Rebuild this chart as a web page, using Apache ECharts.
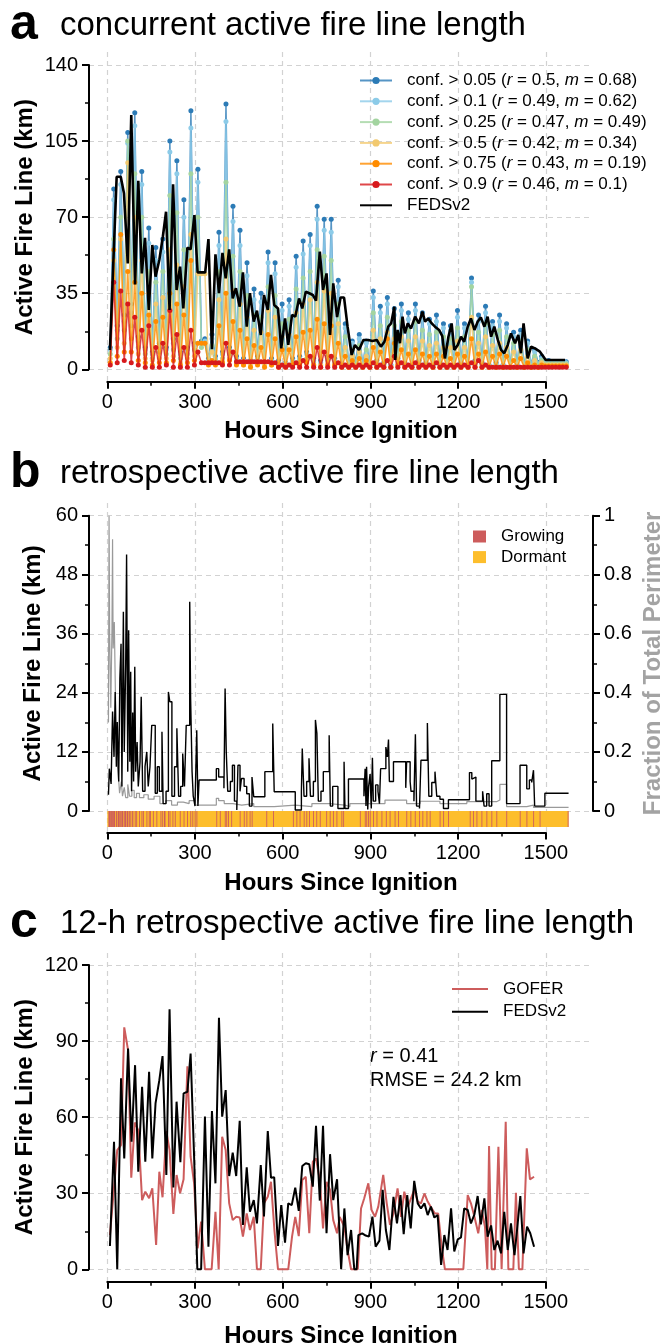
<!DOCTYPE html>
<html>
<head>
<meta charset="utf-8">
<script src="https://cdn.jsdelivr.net/npm/echarts@6/dist/echarts.min.js"></script>
<style>
  html, body { margin: 0; padding: 0; background: #fff; }
  #chart { width: 665px; height: 1343px; }
</style>
</head>
<body>
<div id="chart"></div>
<script>
// ---- panel a: concurrent fire line, one low/high pair per day (low at 10+24d, high 12 h later)
const confStart = 10;
const confThresholds = ['0.05', '0.1', '0.25', '0.5', '0.75', '0.9'];
const confR = ['0.5', '0.49', '0.47', '0.42', '0.43', '0.46'];
const confM = ['0.68', '0.62', '0.49', '0.34', '0.19', '0.1'];

const conf05Lows = [10,20,25,30,15,10,8,12,10,14, 8,10,12,13,5,6,8,10,6,5, 4,6,3,5,4,3,5,6,8,5,
  4,6,5,3,2,3,2,2,4,3, 2,5,3,2,4,3,2,3,1,2, 3,2,4,3,2,3,2,1,2,1, 2,3,3.5,3.5,3.5,3.5];
const conf05Highs = [83,91,109,118,91,65,56,60,105,96, 78,119,92,14,16,63,122,75,64,49, 37,35,54,49,30,32,52,59,62,75,
  69,69,41,21,13,16,13,36,29,33, 28,30,26,30,26,23,25,21,20,27, 21,42,25,29,22,25,21,17,18,13, 9,6,4,3.5,3.5];
const conf10Lows = [9,18,22,26,13,9,7,10,9,12, 7,9,11,12,4,5,7,9,5,4, 3,5,3,4,3,3,4,5,7,4,
  3,5,4,3,2,2,2,2,3,2, 2,4,2,2,3,2,2,2,1,2, 2,2,3,2,2,2,2,1,2,1, 2,2.5,3,3,3,3];
const conf10Highs = [78,85,104,112,85,58,50,54,100,90, 70,111,86,13,14,57,114,68,57,43, 32,31,49,44,27,29,47,53,57,69,
  64,63,38,19,12,14,12,33,26,30, 25,27,23,27,23,21,22,19,18,24, 19,40,22,26,20,22,19,15,16,12, 8,5,3,3,3];
const conf25Lows = [7,14,18,20,10,7,5,8,7,9, 5,7,9,10,3,4,5,7,4,3, 2,4,2,3,2,2,3,4,5,3,
  2,4,3,2,1,2,1,1,2,2, 1,3,2,1,2,2,1,2,1,1, 2,1,2,2,1,2,1,1,1,1, 1,2,2.5,2.5,2.5,2.5];
const conf25Highs = [60,70,105,90,70,45,40,45,80,72, 55,90,70,12,11,45,86,52,45,34, 25,24,38,34,21,23,37,42,45,55,
  52,50,30,15,9,11,9,26,20,24, 20,22,18,22,18,16,17,15,14,19, 15,38,17,21,16,18,15,12,13,9, 6,4,2.5,2.5,2.5];
const conf50Lows = [5,10,12,14,7,5,4,5,5,6, 3,5,6,44,3,3,4,5,3,2, 2,3,2,2,2,2,2,3,4,2,
  2,3,2,2,1,1,1,1,2,1, 1,2,1,1,2,1,1,1,1,1, 1,1,2,1,1,1,1,1,1,1, 1,1,2,2,2,2];
const conf50Highs = [50,60,95,70,50,35,30,33,55,48, 38,62,44,44,8,32,60,36,30,24, 18,17,27,24,15,16,26,30,32,40,
  36,35,21,10,6,8,6,18,14,17, 14,15,13,15,13,11,12,10,10,13, 10,24,12,15,11,12,10,8,9,6, 4,3,2,2,2];
const conf75Lows = [3,6,8,8,4,3,2,3,3,4, 2,3,4,12,2,2,3,4,2,2, 1,2,1,2,1,1,2,2,3,2,
  1,2,2,1,1,1,1,1,1,1, 1,2,1,1,1,1,1,1,1,1, 1,1,1,1,1,1,1,1,1,1, 1,1,1.5,1.5,1.5,1.5];
const conf75Highs = [55,62,45,40,35,25,22,24,35,30, 25,50,12,12,4,20,35,22,18,14, 11,10,16,14,9,9,15,17,18,23,
  21,20,12,6,4,5,4,10,8,14, 12,9,7,9,7,6,7,6,5,7, 6,14,7,8,6,7,6,4,5,3, 2,2,1.5,1.5,1.5];
const conf90Lows = [2,3,4,3,2,1,1,1,2,1, 1,1,2,3,3,3,2,2,3.5,3.5, 3.5,3.5,3.5,3,1,1,1,1,1,1,
  1,1,1,1,1,1,1,1,1,1, 1,1,1,1,1,1,1,1,1,1, 1,1,1,1,1,1,1,1,1,1, 1,1,1,1,1,1];
const conf90Highs = [40,36,30,24,18,20,10,12,27,16, 10,18,8,3,3,3,12,8,3.5,3.5, 3.5,3.5,3.5,3,2,2,3,4,6,10,
  8,6,3,2,2,2,2,3,2,4, 6,3,2,3,2,2,3,2,2,2, 2,3,4,2,1,1,1,1,1,1, 1,1,1,1,1];

const fedsAHours = [9,32,46,57,70,82,95,106,118,129,142,154,165,178,190,201,213,225,237,249,260,274,285,298,309,335,
  346,358,370,382,394,405,417,429,440,453,464,477,488,501,512,525,536,549,560,571,584,595,608,619,632,643,656,667,
  679,691,703,714,727,738,750,762,773,786,798,810,822,836,847,861,876,893,907,922,936,948,961,971,982,985,993,1001,
  1010,1018,1028,1039,1053,1066,1078,1087,1098,1110,1121,1135,1146,1155,1167,1178,1187,1199,1210,1221,1233,1244,
  1256,1267,1278,1290,1301,1313,1324,1336,1347,1358,1370,1381,1395,1406,1415,1424,1438,1450,1463,1480,1500,1566];
const fedsAKm = [8.9,88.6,88.6,81,48.7,117,39,86.7,44.1,60.5,27.3,57.2,42.6,50.3,61,72.5,27.3,85.1,36.5,47.2,28,56,
  55.2,70.9,44.6,44.6,59.9,9.2,52.9,35,53.6,41.8,55.2,32.6,37.3,28.8,44.6,19.6,35,21.9,27,15.8,34.2,27.3,43.4,29.6,
  28,9.6,23.4,11.2,25,24.2,32.6,28,35.7,35,34.2,31.6,54.1,36.5,44.1,15.8,39.5,24,33,33,19.6,6.6,11.2,8.9,13.5,13.5,
  13,13.5,10.4,12.7,19.6,21.1,28.8,4.3,18.1,12,24.2,16.5,21.1,18.8,24.2,21.1,26.5,21.9,23.4,21.1,19.6,18.1,15.3,5,
  15,21.1,8.9,11.2,15,12.7,19.6,23.4,18.1,21.9,23.9,19.6,24.2,15,19.6,13.5,8.9,7.4,11.2,16.5,12,15.8,7.4,21.1,5,
  10.4,9.6,8.1,4.3,4.3];

// ---- panel b: retrospective fire line (km, step) and fraction of perimeter (step)
const retroHours = [4,7,13,18,23,27,31,34,39,43,47,50,55,58,63,66,70,73,77,80,83,87,90,94,97,102,106,112,116,121,
  129,135,140,146,152,164,171,178,187,191,201,209,214,221,230,238,244,251,258,264,270,282,285,290,294,300,306,310,
  314,373,381,399,403,407,412,421,428,435,443,447,454,459,468,477,486,495,501,539,566,571,643,664,667,673,682,690,
  695,705,712,717,722,731,739,759,763,771,789,810,813,825,878,882,885,887,891,894,899,903,907,910,918,926,931,935,
  953,958,962,965,979,1021,1024,1036,1039,1049,1054,1058,1068,1073,1095,1100,1110,1121,1127,1138,1150,1167,1239,
  1247,1252,1261,1284,1289,1298,1306,1315,1343,1366,1412,1435,1444,1452,1458,1462,1497,1578];
const retroKm = [3.3,8.6,5.5,20.2,11,24.2,9,18.1,6,27,34,5,40.5,12,30,52.1,8,36.7,10,28.3,4,20,6,29.3,8,14,5,10,23.2,
  4,9,12,5,9,17.4,3.6,9,4,16.1,1.5,4,24.2,22.2,3,9,16.8,3,5,11.7,5,17.4,42.5,23,8,3,1,16.4,1,6.3,8.6,6.9,4.6,24.9,
  12,4,6,9.3,2,0.2,9.3,4,6.6,5,3.5,1,6.9,2.9,8,17.8,3.9,0.2,4,12.7,3,6,10.7,3,6,18.5,15.8,2,4,8,15.4,1,5,0.5,10,0.5,
  6.5,3,8.6,1,9,0.3,5,7.5,0.5,10.8,2,5.3,4,1.5,8.6,13,11,14.5,6,10,4.7,10,6,4,2,15.6,1,0.5,10.3,17.9,3,5.8,8,3,2.4,
  0.5,2.3,7.8,6.5,6.9,2,4,1,3.5,1,10.2,23.7,1.5,9.3,4.5,6.3,5.8,8.3,1,3.6,3.6];
const fracHours = [4,6,8,12,16,18,20,24,28,31,35,40,42,48,52,58,63,70,76,84,92,100,110,125,140,160,180,200,220,240,
  260,280,300,314,373,381,400,430,460,501,571,643,700,760,813,830,900,950,1000,1024,1070,1138,1230,1333,1343,1366,
  1435,1458,1578];
const fracTotal = [0.3,1,0.6,0.35,0.62,0.92,0.55,0.64,0.38,0.2,0.15,0.09,0.06,0.1,0.05,0.08,0.045,0.09,0.05,0.07,
  0.045,0.06,0.045,0.055,0.04,0.05,0.025,0.035,0.02,0.03,0.025,0.035,0.02,0.02,0.043,0.035,0.025,0.02,0.025,0.015,
  0.02,0.015,0.025,0.02,0.015,0.025,0.025,0.037,0.037,0.025,0.033,0.025,0.032,0.037,0.09,0.015,0.02,0.012,0.012];
const dormantSpans = [[0, 1578]];
const growingSpans = [[4,12],[13,19],[20,27],[30,34],[36,40],[41,46],[48,55],[58,64],[66,71],[73,77],[79,82],[85,89],
  [94,97],[99,102],[109,112],[117,120],[122,125],[134,137],[142,145],[146,149],[156,159],[168,171],[182,185],
  [188,191],[194,199],[208,211],[213,216],[223,226],[231,234],[248,251],[261,264],[273,276],[284,287],[291,294],
  [299,302],[305,308],[373,376],[385,388],[402,405],[407,410],[413,416],[424,427],[453,456],[467,470],[476,479],
  [487,490],[494,497],[544,547],[567,570],[635,638],[647,650],[658,661],[672,675],[681,684],[690,693],[704,707],
  [715,718],[727,730],[749,752],[761,764],[772,775],[784,787],[801,804],[807,810],[864,867],[881,884],[886,889],
  [892,895],[898,901],[909,912],[921,924],[938,941],[953,956],[966,969],[983,986],[995,998],[1023,1026],[1037,1040],
  [1052,1055],[1067,1070],[1078,1081],[1092,1095],[1103,1106],[1137,1140],[1149,1152],[1166,1169],[1240,1243],
  [1251,1254],[1263,1266],[1280,1283],[1297,1300],[1314,1317],[1331,1334],[1365,1368],[1411,1414],[1434,1437],
  [1457,1460],[1479,1482],[1575,1578]];

// ---- panel c: 12-h retrospective fire line
const goferHours = [9,34,47,58,71,82,94,106,119,130,143,154,167,178,189,202,213,226,237,249,261,274,285,297,309,321,
  334,357,370,381,393,405,417,429,441,453,464,477,488,501,512,525,536,549,560,572,584,619,632,643,655,667,679,691,
  703,714,727,738,750,762,773,786,795,811,822,834,857,868,879,893,904,916,927,944,956,967,979,993,1005,1016,1028,
  1039,1050,1062,1073,1085,1096,1110,1121,1132,1144,1155,1218,1233,1244,1256,1269,1281,1292,1300,1306,1315,1326,
  1338,1349,1363,1372,1389,1398,1408,1420,1435,1446,1460];
const goferKm = [13.5,47,49,95.4,86.4,36.1,57.9,54.9,27.3,30.6,28,31.9,9.6,38.5,28.4,54.5,47,21.8,37.2,30,35.5,80.1,
  44.4,33.9,8.3,18.8,0,0,22.7,0,52.3,47,26,19.4,20.7,20.4,12.9,22,15.5,20.7,0,0,26,28.6,34.5,15,0,0,12.9,20.7,13.1,
  35.2,36.5,14.2,42.4,43.7,35.2,16.1,34.5,31.3,19.4,14.2,20.7,16.8,7.6,0,0,24,28,33.9,23.4,20.7,24.7,37.2,26,17.5,
  22,31.9,20.7,30.6,24.7,28,31.3,26.7,26,29.9,26.7,24,22,22,8.9,0,0,29.3,26,20.7,14.2,23.4,16.8,0,48.6,0,0,48.3,0,
  58.2,0,0,30.2,0,0,47.7,35.5,36.5];
const fedsCHours = [9,23,34,47,58,71,83,95,106,119,130,143,154,165,178,189,202,213,226,237,250,261,274,285,297,308,
  321,334,346,358,370,382,393,405,417,429,441,453,464,477,488,501,512,525,536,549,560,571,584,595,608,619,631,643,
  655,667,679,691,703,714,727,738,750,762,773,786,800,811,822,834,845,853,859,872,884,895,907,918,931,942,953,965,
  979,991,1003,1014,1026,1038,1050,1062,1073,1085,1096,1107,1119,1130,1142,1153,1164,1176,1187,1199,1210,1221,1233,
  1244,1256,1267,1278,1290,1301,1313,1324,1335,1347,1358,1370,1381,1393,1404,1413,1424,1436,1447,1460];
const fedsCKm = [9.2,50.3,0,75.3,43.7,87.1,50.3,80.5,38.5,72,42.4,77.9,43.7,65.4,74.6,84.1,37.2,102.5,32.3,66.1,42.2,
  69.4,70,85.1,44.4,0,0,60.2,8.9,62.4,33.9,99.2,60.2,70.7,36.8,46,36.8,58.6,17.5,40.2,22.7,27.3,18.1,41.1,20.8,54.5,
  36.1,36.3,9.2,25.3,10.5,26,25.3,32.2,23,40.7,41.8,41.4,32.6,56.6,27.1,56.6,14.2,45.4,27.3,35.5,0,24,5.6,15.5,0,0,
  13.5,14.2,13.3,12.9,20.8,8.9,11.3,31.3,15.5,7.6,28.6,18.1,29.3,13.9,29.3,16.1,34.9,26,24,26,21.4,24.7,20.4,21.4,
  1.7,13.5,7.6,24,7,11.8,12.6,24,23.4,18.1,21.7,28.9,17.7,28,12.9,17.3,7.6,11.3,6.3,22.7,7.6,18.1,5.6,18.1,28.9,6.3,
  16.8,14.2,8.9];

// ---- styling
const FONT = '"Liberation Sans", Arial, Helvetica, sans-serif';
const X_MIN = -62.6, X_MAX = 1661.6;
const confColors = ['#2c7bb6', '#8ccbe8', '#a3d4a0', '#f2c96f', '#ff8c00', '#d7191c'];
const confLows = [conf05Lows, conf10Lows, conf25Lows, conf50Lows, conf75Lows, conf90Lows];
const confHighs = [conf05Highs, conf10Highs, conf25Highs, conf50Highs, conf75Highs, conf90Highs];
const GROW = '#cd5c5c', DORM = '#fdbe2c';

function zip(xs, ys) { return xs.map((x, i) => [x, ys[i]]); }
function daily(lows, highs) {
  const out = [];
  lows.forEach((lo, d) => {
    out.push([confStart + 24 * d, lo]);
    if (d < highs.length) out.push([confStart + 12 + 24 * d, highs[d]]);
  });
  return out;
}

const dashed = { show: true, lineStyle: { color: '#d2d2d2', width: 1.2, type: [5, 4] } };
const black = { color: '#000', width: 2 };
const tickLabel = { fontFamily: FONT, fontSize: 20, color: '#000' };
const titleStyle = { fontFamily: FONT, fontSize: 24, fontWeight: 'bold', color: '#000' };

function mainX(grid, gap) {
  return {
    gridIndex: grid, type: 'value', min: X_MIN, max: X_MAX,
    axisLine: { show: false }, axisTick: { show: false }, axisLabel: { show: false }, splitLine: { show: false },
    name: 'Hours Since Ignition', nameLocation: 'middle', nameGap: gap, nameMoveOverlap: false, nameTextStyle: titleStyle
  };
}
function spineX(grid) {
  return {
    gridIndex: grid, type: 'value', min: 0, max: 1500, interval: 300,
    axisLine: { show: true, onZero: false, lineStyle: black },
    axisTick: { show: true, length: 7, lineStyle: black },
    minorTick: { show: true, splitNumber: 2, length: 4, lineStyle: { color: '#000', width: 1.5 } },
    axisLabel: Object.assign({ margin: 11, formatter: v => String(v) }, tickLabel),
    splitLine: dashed
  };
}
function leftY(grid, max, interval, gap) {
  return {
    gridIndex: grid, type: 'value', min: 0, max: max, interval: interval,
    axisLine: { show: true, onZero: false, lineStyle: black },
    axisTick: { show: true, length: 7, lineStyle: black },
    minorTick: { show: true, splitNumber: 2, length: 4, lineStyle: { color: '#000', width: 1.5 } },
    axisLabel: Object.assign({ margin: 11 }, tickLabel),
    splitLine: dashed,
    name: 'Active Fire Line (km)', nameLocation: 'middle', nameRotate: 90, nameGap: gap, nameMoveOverlap: false,
    nameTextStyle: titleStyle
  };
}
function dummyY(grid) { return { gridIndex: grid, type: 'value', min: 0, max: 1, show: false }; }

const legendText = {
  fontFamily: FONT, fontSize: 17, color: '#000', lineHeight: 17, padding: [0, 0, 0, 10],
  rich: { i: { fontFamily: FONT, fontSize: 17, fontStyle: 'italic', color: '#000' } }
};
const noMarker = { opacity: 0 };

const confNames = confThresholds.map((t, i) => `conf. > ${t} (r = ${confR[i]}, m = ${confM[i]})`);

const series = [];
confNames.forEach((name, i) => {
  series.push({
    name: name, type: 'line', xAxisIndex: 0, yAxisIndex: 0, data: daily(confLows[i], confHighs[i]),
    symbol: 'circle', symbolSize: 5, showSymbol: true, clip: false, z: 2 + i * 0.1,
    lineStyle: { color: confColors[i], width: 1.5, opacity: 0.8 },
    itemStyle: { color: confColors[i] }
  });
});
series.push({
  name: 'FEDSv2', type: 'line', xAxisIndex: 0, yAxisIndex: 0, data: zip(fedsAHours, fedsAKm),
  symbol: 'none', clip: false, z: 4, lineStyle: { color: '#000', width: 2.6 }, itemStyle: { color: '#000' }
});

function spanRenderer(color) {
  return function (params, api) {
    const a = api.coord([api.value(0), 0]);
    const b = api.coord([api.value(1), 0]);
    return { type: 'rect', shape: { x: a[0], y: a[1], width: Math.max(b[0] - a[0], 0.8), height: 16 }, style: { fill: color } };
  };
}
series.push({
  name: 'Dormant', type: 'custom', xAxisIndex: 2, yAxisIndex: 2, clip: false, silent: true,
  renderItem: spanRenderer(DORM), data: dormantSpans, encode: { x: [0, 1] }, itemStyle: { color: DORM }, z: 1
});
series.push({
  name: 'Growing', type: 'custom', xAxisIndex: 2, yAxisIndex: 2, clip: false, silent: true,
  renderItem: spanRenderer(GROW), data: growingSpans, encode: { x: [0, 1] }, itemStyle: { color: GROW }, z: 2
});
series.push({
  name: 'fraction', type: 'line', xAxisIndex: 2, yAxisIndex: 3, data: zip(fracHours, fracTotal), step: 'end',
  symbol: 'none', clip: false, z: 3, lineStyle: { color: '#9a9a9a', width: 1.2 }
});
series.push({
  name: 'retro', type: 'line', xAxisIndex: 2, yAxisIndex: 2, data: zip(retroHours, retroKm), step: 'end',
  symbol: 'none', clip: false, z: 4, lineStyle: { color: '#000', width: 1.4 }
});
series.push({
  name: 'GOFER', type: 'line', xAxisIndex: 4, yAxisIndex: 5, data: zip(goferHours, goferKm),
  symbol: 'none', clip: false, z: 3, lineStyle: { color: GROW, width: 2 }, itemStyle: { color: GROW }
});
series.push({
  name: 'FEDSv2 ', type: 'line', xAxisIndex: 4, yAxisIndex: 5, data: zip(fedsCHours, fedsCKm),
  symbol: 'none', clip: false, z: 4, lineStyle: { color: '#000', width: 2 }, itemStyle: { color: '#000' }
});

function headline(top, letter, text) {
  return [
    { type: 'text', left: 10, top: top, style: { text: letter, fontFamily: FONT, fontSize: 50, fontWeight: 'bold', fill: '#000' } },
    { type: 'text', left: 60, top: top + 9, style: { text: text, fontFamily: FONT, fontSize: 33, fill: '#000' } }
  ];
}

const plain = { outerBoundsMode: 'none', containLabel: false };
const option = {
  animation: false,
  backgroundColor: '#fff',
  grid: [
    Object.assign({ left: 89, top: 65, width: 504, height: 304.3 }, plain),
    Object.assign({ left: 107.3, top: 52, width: 438.5, height: 329.7 }, plain),
    Object.assign({ left: 89, top: 515.7, width: 504, height: 295.3 }, plain),
    Object.assign({ left: 107.3, top: 503, width: 438.5, height: 329.5 }, plain),
    Object.assign({ left: 89, top: 965, width: 504, height: 304.3 }, plain),
    Object.assign({ left: 107.3, top: 953, width: 438.5, height: 328.7 }, plain)
  ],
  xAxis: [mainX(0, 50), spineX(1), mainX(2, 60), spineX(3), mainX(4, 55), spineX(5)],
  yAxis: [
    leftY(0, 140, 35, 52),
    dummyY(1),
    leftY(2, 60, 12, 44),
    {
      gridIndex: 2, type: 'value', position: 'right', min: 0, max: 1, interval: 0.2,
      axisLine: { show: true, onZero: false, lineStyle: black },
      axisTick: { show: true, length: 7, lineStyle: black },
      minorTick: { show: true, splitNumber: 2, length: 4, lineStyle: { color: '#000', width: 1.5 } },
      axisLabel: Object.assign({ margin: 11 }, tickLabel),
      splitLine: { show: false },
      name: 'Fraction of Total Perimeter', nameLocation: 'middle', nameRotate: 90, nameGap: 48, nameMoveOverlap: false,
      nameTextStyle: Object.assign({}, titleStyle, { color: '#a3a3a3' })
    },
    dummyY(3),
    leftY(4, 120, 30, 52),
    dummyY(5)
  ],
  legend: [
    {
      data: confNames.concat([{ name: 'FEDSv2', itemStyle: noMarker }]), orient: 'vertical', left: 359, top: 72, padding: 0,
      itemWidth: 32, itemHeight: 9, itemGap: 3.8, selectedMode: false, textStyle: legendText,
      formatter: n => n.replace('(r =', '({i|r} =').replace(', m =', ', {i|m} =')
    },
    {
      data: [{ name: 'Growing', icon: 'rect' }, { name: 'Dormant', icon: 'rect' }],
      orient: 'vertical', left: 473, top: 528, padding: 0, itemWidth: 13, itemHeight: 12, itemGap: 3.6,
      selectedMode: false, textStyle: legendText
    },
    {
      data: [{ name: 'GOFER', itemStyle: noMarker }, { name: 'FEDSv2 ', itemStyle: noMarker }],
      orient: 'vertical', left: 451, top: 980.5, padding: 0,
      itemWidth: 36, itemHeight: 9, itemGap: 5.7, selectedMode: false, textStyle: legendText
    }
  ],
  graphic: headline(0, 'a', 'concurrent active fire line length')
    .concat(headline(448, 'b', 'retrospective active fire line length'))
    .concat(headline(898, 'c', '12-h retrospective active fire line length'))
    .concat([{
      type: 'text', left: 370, top: 1044,
      style: {
        text: '{i|r} = 0.41\nRMSE = 24.2 km', fontFamily: FONT, fontSize: 20, lineHeight: 24, fill: '#000',
        rich: { i: { fontFamily: FONT, fontSize: 20, fontStyle: 'italic', lineHeight: 24 } }
      }
    }]),
  series: series
};

const chart = echarts.init(document.getElementById('chart'), null, { renderer: 'canvas' });
chart.setOption(option);
</script>
</body>
</html>
